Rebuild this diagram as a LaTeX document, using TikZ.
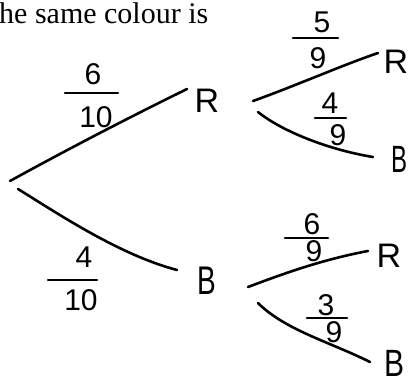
\documentclass[tikz,border=0pt]{standalone}
\usepackage{fontspec}
\setmainfont{Liberation Serif}
\newfontfamily\hand{Liberation Sans}
\usepackage{graphicx}
\begin{document}
\begin{tikzpicture}[x=1pt,y=-1pt,
  branch/.style={line width=2.6pt, line cap=round},
  fracbar/.style={line width=2.4pt, line cap=round},
  lab/.style={font=\hand\fontsize{34}{34}\selectfont, inner sep=0pt},
  labB/.style={font=\hand\fontsize{40}{40}\selectfont, inner sep=0pt},
  num/.style={font=\hand\fontsize{30}{30}\selectfont, inner sep=0pt}]
\useasboundingbox (0,0) rectangle (409,385);

% heading fragment
\node[anchor=base west, inner sep=0pt, font=\fontsize{30}{30}\selectfont] (title) at (-1,24) {he same colour is};

% outcome labels
\node[lab] (R1) at (207,101) {R};
\node[labB] (B1) at (207,281) {\scalebox{0.7}[1]{B}};
\node[lab] (R11) at (396,62) {R};
\node[labB] (B12) at (399,159) {\scalebox{0.6}[0.95]{B}};
\node[lab] (R21) at (389,256) {R};
\node[labB, anchor=base] (B22) at (394,376) {\scalebox{0.75}[0.95]{B}};

% branch end points
\coordinate (o1) at (10,181);
\coordinate (o2) at (18,189);
\coordinate (e1) at (187,89);
\coordinate (e2) at (177,270);
\coordinate (s11) at (253,101);
\coordinate (e11) at (378,53);
\coordinate (s12) at (258,112);
\coordinate (e12) at (373,157);
\coordinate (s21) at (248,287);
\coordinate (e21) at (368,251);
\coordinate (s22) at (258,303);
\coordinate (e22) at (370,362);

% branches
\draw[branch] (o1) .. controls (70,148) and (130,117) .. (e1);
\draw[branch] (o2) .. controls (60,215) and (120,255) .. (e2);
\draw[branch] (s11) .. controls (295,86) and (340,66) .. (e11);
\draw[branch] (s12) .. controls (283,132) and (330,150) .. (e12);
\draw[branch] (s21) .. controls (280,275) and (320,260) .. (e21);
\draw[branch] (s22) .. controls (285,330) and (330,342) .. (e22);

% fraction 6/10
\node[num] (n1) at (93,74) {6};
\node[num] (d1) at (96,117) {10};
\draw[fracbar] (65,93) -- (118,93);
% fraction 4/10
\node[num] (n2) at (84,257) {4};
\node[num] (d2) at (81,300) {10};
\draw[fracbar] (48,280) -- (97,280);
% fraction 5/9
\node[num] (n3) at (322,22) {5};
\node[num] (d3) at (318,58) {9};
\draw[fracbar] (293,38) -- (338,38);
% fraction 4/9
\node[num] (n4) at (330,103) {4};
\node[num] (d4) at (338,135) {9};
\draw[fracbar] (315,118) -- (346,118);
% fraction 6/9
\node[num] (n5) at (312,224) {6};
\node[num] (d5) at (314,251) {9};
\draw[fracbar] (285,238) -- (328,238);
% fraction 3/9
\node[num] (n6) at (326,305) {3};
\node[num] (d6) at (334,332) {9};
\draw[fracbar] (307,318) -- (347,318);
\end{tikzpicture}
\end{document}
